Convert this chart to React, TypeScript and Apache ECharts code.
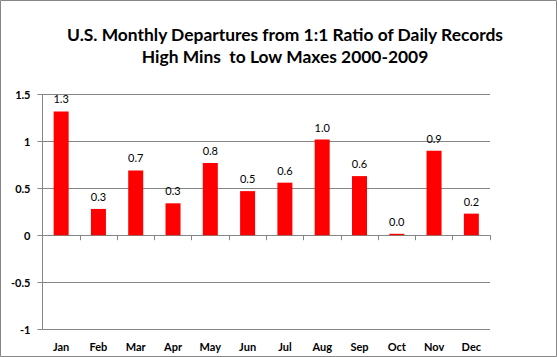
import React, { useEffect, useRef } from "react";
import * as echarts from "echarts";

const titleLines = [
  "U.S. Monthly Departures from 1:1 Ratio of Daily Records",
  "High Mins  to Low Maxes 2000-2009",
];
const months = ["Jan", "Feb", "Mar", "Apr", "May", "Jun", "Jul", "Aug", "Sep", "Oct", "Nov", "Dec"];
const departures = [1.32, 0.28, 0.69, 0.34, 0.77, 0.47, 0.56, 1.02, 0.63, 0.015, 0.9, 0.23];
const yMin = -1;
const yMax = 1.5;
const yStep = 0.5;

const FONT = "Lato, 'Open Sans', sans-serif";
const GRAY = "#868686";

export default function App() {
  const ref = useRef<HTMLDivElement>(null);
  useEffect(() => {
    document.body.style.margin = "0";
    const chart = echarts.init(ref.current!, null, { renderer: "svg" });
    chart.setOption({
      animation: false,
      backgroundColor: "#ffffff",
      textStyle: { fontFamily: FONT },
      graphic: [
        {
          type: "rect",
          shape: { x: 0.5, y: 0.5, width: 556, height: 356 },
          style: { fill: "none", stroke: GRAY, lineWidth: 1 },
          silent: true,
        },
        {
          type: "text",
          x: 285,
          y: 34,
          style: {
            text: titleLines[0],
            textAlign: "center",
            textVerticalAlign: "middle",
            fontFamily: FONT,
            fontWeight: "bold",
            fontSize: 17.4,
            fill: "#000",
          },
        },
        {
          type: "text",
          x: 285,
          y: 56,
          style: {
            text: titleLines[1],
            textAlign: "center",
            textVerticalAlign: "middle",
            fontFamily: FONT,
            fontWeight: "bold",
            fontSize: 17.4,
            fill: "#000",
          },
        },
      ],
      grid: {
        left: 42.5,
        right: 67,
        top: 94.5,
        bottom: 28,
        containLabel: false,
        outerBoundsMode: "none",
      },
      xAxis: {
        type: "category",
        data: months,
        axisLine: { onZero: true, lineStyle: { color: GRAY, width: 1 } },
        axisTick: { show: true, length: 5, lineStyle: { color: GRAY } },
        axisLabel: {
          margin: 12,
          color: "#000",
          fontWeight: "bold",
          fontSize: 11,
          fontFamily: FONT,
        },
        splitLine: { show: false },
      },
      yAxis: {
        type: "value",
        min: yMin,
        max: yMax,
        interval: yStep,
        axisLine: { show: true, lineStyle: { color: GRAY, width: 1 } },
        axisTick: { show: true, length: 5, lineStyle: { color: GRAY } },
        axisLabel: {
          margin: 12,
          color: "#000",
          fontWeight: "bold",
          fontSize: 11,
          fontFamily: FONT,
        },
        splitLine: { show: true, lineStyle: { color: GRAY, width: 1 } },
      },
      series: [
        {
          type: "bar",
          data: departures,
          barWidth: 15,
          itemStyle: { color: "#ff0000" },
          label: {
            show: true,
            position: "top",
            distance: 7,
            color: "#000",
            fontSize: 11,
            fontFamily: FONT,
            formatter: (p: any) => Number(p.value).toFixed(1),
          },
        },
      ],
    });
    return () => chart.dispose();
  }, []);
  return <div ref={ref} style={{ width: 557, height: 357 }} />;
}
